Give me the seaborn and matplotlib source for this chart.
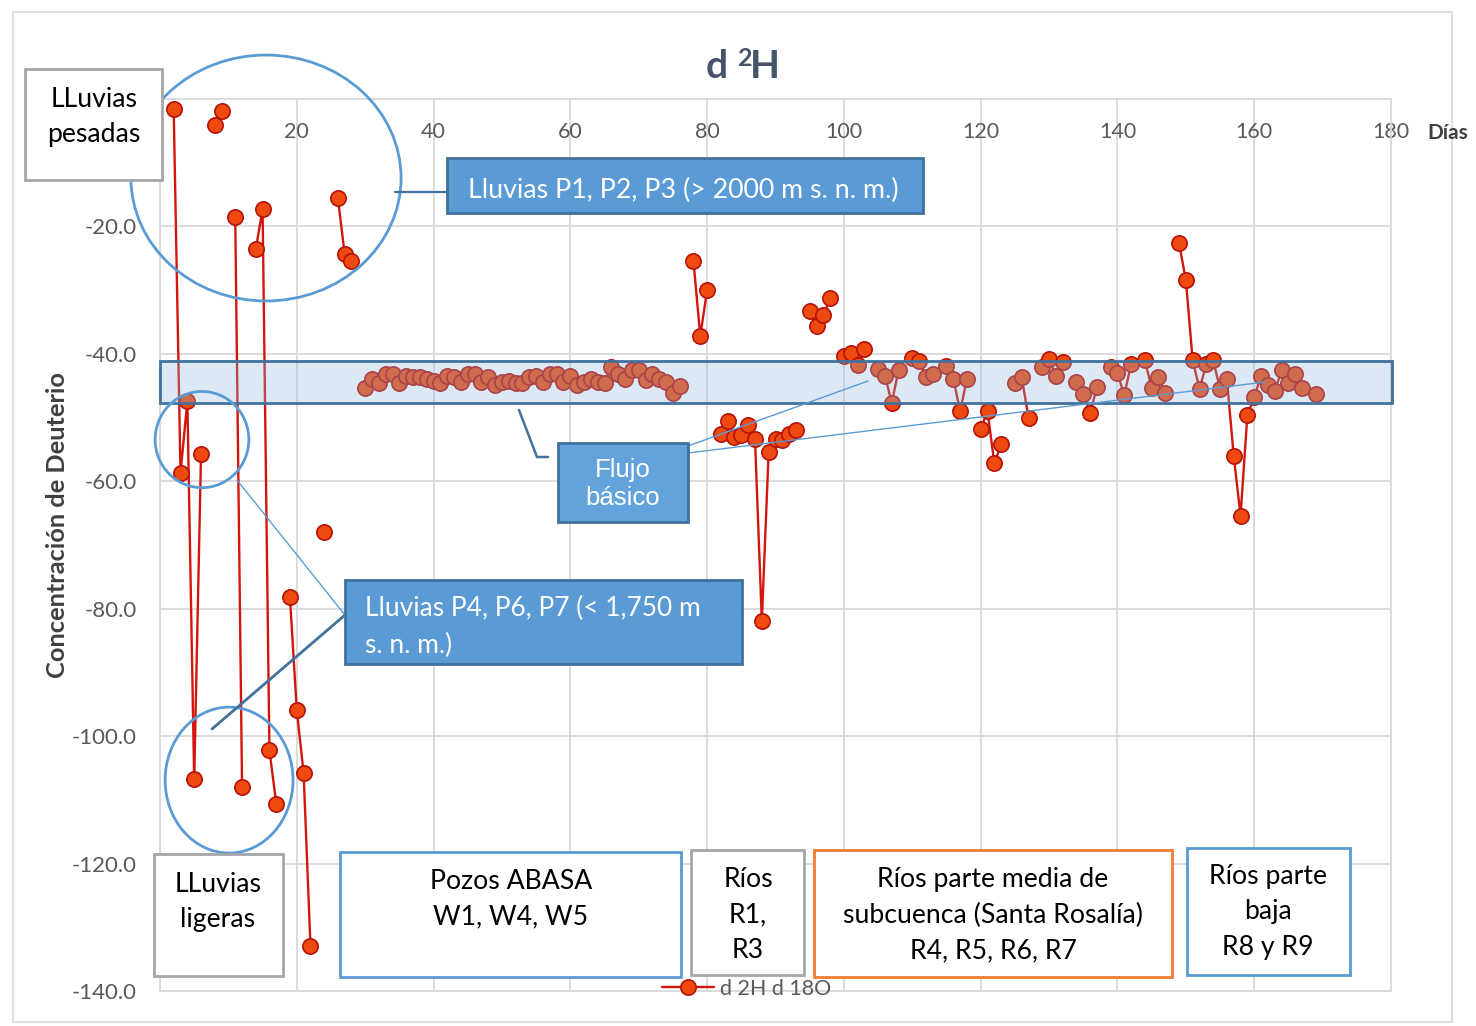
import numpy as np
import pandas as pd
import matplotlib
matplotlib.use("Agg")
import matplotlib.pyplot as plt
from matplotlib.patches import Rectangle, Ellipse
from matplotlib.lines import Line2D
import seaborn as sns

nan = np.nan

# Deuterium (d 2H) by sampling day; NaN marks days without a sample (line breaks)
lluvias_dias = list(range(2, 29))
lluvias_d2h = [-1.5, -58.7, -47.4, -106.8, -55.7, nan, -4.1, -1.9, nan, -18.5,
               -108.0, nan, -23.6, -17.3, -102.2, -110.6, nan, -78.2, -95.9,
               -105.8, -132.9, nan, -67.9, nan, -15.5, -24.3, -25.4]

pozos_dias = list(range(30, 77))
pozos_d2h = [-45.3, -44.0, -44.6, -43.2, -43.1, -44.6, -43.5, -43.6, -43.7, -43.9,
             -44.2, -44.5, -43.5, -43.6, -44.4, -43.1, -43.1, -44.4, -43.6, -44.9,
             -44.4, -44.2, -44.5, -44.6, -43.6, -43.5, -44.4, -43.1, -43.2, -44.4,
             -43.5, -44.9, -44.4, -43.9, -44.4, -44.5, -42.0, -43.2, -43.9, -42.5,
             -42.6, -44.1, -43.1, -43.9, -44.4, -46.2, -45.1]

rios_alta_dias = list(range(78, 94))
rios_alta_d2h = [-25.4, -37.2, -30.0, nan, -52.6, -50.5, -53.1, -52.7, -51.2,
                 -53.3, -81.9, -55.4, -53.3, -53.5, -52.6, -52.0]

rios_media_dias = list(range(95, 148))
rios_media_d2h = [-33.3, -35.7, -33.9, -31.3, nan, -40.4, -39.9, -41.8, -39.2, nan,
                  -42.3, -43.4, -47.7, -42.5, nan, -40.6, -41.1, -43.7, -43.2, nan,
                  -41.9, -43.9, -49.0, -43.9, nan, -51.8, -49.0, -57.2, -54.2, nan,
                  -44.5, -43.7, -50.0, nan, -42.1, -40.8, -43.5, -41.2, nan,
                  -44.4, -46.3, -49.3, -45.2, nan, -42.0, -43.0, -46.5, -41.6, nan,
                  -40.9, -45.4, -43.7, -46.2]

rios_baja_dias = list(range(149, 170))
rios_baja_d2h = [-22.6, -28.4, -41.0, -45.5, -41.6, -41.0, -45.5, -43.9, -56.0,
                 -65.4, -49.6, -46.8, -43.4, -44.9, -45.9, -42.6, -44.5, -43.2,
                 -45.3, nan, -46.3]

x_ticks = [0, 20, 40, 60, 80, 100, 120, 140, 160, 180]
x_labels = ["", "20", "40", "60", "80", "100", "120", "140", "160", "180"]
y_ticks = [-140, -120, -100, -80, -60, -40, -20]

# Band of base flow values
banda_min, banda_max = -47.7, -41.1

# ---- build the long table, one "tramo" per unbroken run of samples ----
grupos = [(lluvias_dias, lluvias_d2h), (pozos_dias, pozos_d2h),
          (rios_alta_dias, rios_alta_d2h), (rios_media_dias, rios_media_d2h),
          (rios_baja_dias, rios_baja_d2h)]
frames = []
for g, (d, v) in enumerate(grupos):
    v = np.asarray(v, dtype=float)
    tramo = g * 1000 + np.cumsum(np.isnan(v))
    frames.append(pd.DataFrame({"Día": d, "d2H": v, "tramo": tramo}))
df = pd.concat(frames).dropna().reset_index(drop=True)

# ---- figure ----
sns.set_theme(style="white")
plt.rcParams["font.family"] = ["Lato", "DejaVu Sans"]
plt.rcParams["axes.unicode_minus"] = False

W, H = 1476, 1026
fig = plt.figure(figsize=(W / 100, H / 100), dpi=100)
fig.patch.set_facecolor("white")


def fx(x):
    return x / W


def fy(y):
    return 1 - y / H


ax = fig.add_axes([fx(160), fy(991), (1391 - 160) / W, (991 - 99) / H])

LINE_RED = "#d3150c"
FACE = "#ee4a10"
EDGE = "#b5120a"

sns.lineplot(data=df, x="Día", y="d2H", units="tramo", estimator=None, sort=False,
             color=LINE_RED, linewidth=1.7, marker="o", markersize=11,
             markerfacecolor=FACE, markeredgecolor=EDGE, markeredgewidth=1.2,
             legend=False, ax=ax, zorder=3)

ax.set_xlim(0, 180)
ax.set_ylim(-140, 0)
ax.set_xlabel("")
ax.set_ylabel("")

GRID = "#d9d9d9"
ax.set_xticks(x_ticks)
ax.set_xticklabels(x_labels)
ax.set_yticks(y_ticks)
ax.set_yticklabels([f"{v:.1f}" for v in y_ticks])
ax.grid(True, color=GRID, linewidth=1.3)
ax.set_axisbelow(True)
for s in ax.spines.values():
    s.set_color(GRID)
    s.set_linewidth(1.3)
ax.tick_params(axis="x", top=True, labeltop=True, bottom=False, labelbottom=False,
               length=0, pad=-31, labelsize=15.5, labelcolor="#595959")
ax.tick_params(axis="y", length=0, pad=17, labelsize=16, labelcolor="#595959")

# base-flow band (semi transparent, above the markers)
ax.add_patch(Rectangle((0, banda_min), 180.2, banda_max - banda_min,
                       facecolor=(0.55, 0.72, 0.88, 0.30), edgecolor="#41719c",
                       linewidth=2, zorder=4, clip_on=False))

# ellipses grouping rain samples
ELL = "#5b9bd5"
for (cx, cy, w, h) in [(15.5, -12.4, 39.5, 38.6), (6.14, -53.45, 13.7, 15.1),
                       (10.1, -106.9, 18.7, 22.9)]:
    ax.add_patch(Ellipse((cx, cy), w, h, facecolor="none", edgecolor=ELL,
                         linewidth=2, zorder=5, clip_on=False))

# ---- annotations in figure pixel space ----
DARK_BLUE = "#41719c"
BOX_BLUE = "#5b9bd5"


def fline(pts, color, lw):
    xs = [fx(p[0]) for p in pts]
    ys = [fy(p[1]) for p in pts]
    fig.add_artist(Line2D(xs, ys, color=color, linewidth=lw, transform=fig.transFigure,
                          zorder=6))


def fbox(x0, y0, x1, y1, face, edge, lw=2):
    fig.add_artist(Rectangle((fx(x0), fy(y1)), (x1 - x0) / W, (y1 - y0) / H,
                             facecolor=face, edgecolor=edge, linewidth=lw,
                             transform=fig.transFigure, zorder=7))


def ftext(x, y, s, size=19.2, color="black", ha="center", family=None, ls=1.52, **kw):
    fam = family if family else ["Lato", "DejaVu Sans"]
    fig.text(fx(x), fy(y), s, ha=ha, va="center", fontsize=size, color=color,
             family=fam, zorder=8, linespacing=ls, **kw)


# outer chart frame
fig.add_artist(Rectangle((fx(13), fy(1022)), (1452 - 13) / W, (1022 - 12) / H,
                         facecolor="none", edgecolor="#dedede", linewidth=1.5,
                         transform=fig.transFigure, zorder=0))

# connectors
fline([(395, 192), (447, 192)], DARK_BLUE, 1.6)
fline([(519, 410), (537, 457), (548, 457)], DARK_BLUE, 1.8)
fline([(688, 446), (868, 381)], BOX_BLUE, 1.0)
fline([(688, 453), (1265, 382)], BOX_BLUE, 1.0)
fline([(237, 480), (345, 615)], BOX_BLUE, 1.0)
fline([(345, 615), (212, 729)], DARK_BLUE, 2.0)

# heavy rain label
fbox(25, 69, 162, 180, "white", "#a6a6a6")
ftext(94, 117, "LLuvias\npesadas")

# high altitude rain
fbox(447, 158, 923, 213, BOX_BLUE, DARK_BLUE)
ftext(683, 190, "Lluvias P1, P2, P3 (> 2000 m s. n. m.)", size=19.3, color="white")

# base flow
fbox(558, 443, 688, 522, "#62a3dc", DARK_BLUE)
ftext(623, 484, "Flujo\nbásico", size=18.5, color="white", ls=1.22,
      family=["Liberation Sans", "DejaVu Sans"])

# low altitude rain
fbox(345, 580, 742, 664, BOX_BLUE, DARK_BLUE)
ftext(365, 627, "Lluvias P4, P6, P7 (< 1,750 m\ns. n. m.)", size=19, color="white",
      ha="left", ls=1.55)

# bottom group boxes
fbox(154, 854, 283, 976, "white", "#a6a6a6")
ftext(218, 902, "LLuvias\nligeras")
fbox(340, 852, 681, 977, "white", BOX_BLUE)
ftext(511, 899, "Pozos ABASA\nW1, W4, W5")
fbox(691, 850, 804, 975, "white", "#a6a6a6")
ftext(748, 915, "Ríos\nR1,\nR3")
fbox(814, 850, 1172, 977, "white", "#ed7d31")
ftext(993, 915, "Ríos parte media de\nsubcuenca (Santa Rosalía)\nR4, R5, R6, R7")
fbox(1187, 848, 1350, 975, "white", BOX_BLUE)
ftext(1268, 912, "Ríos parte\nbaja\nR8 y R9")

# title: d with superscript 2 before H
TITLE = "#44546a"
fig.text(fx(717), fy(67), "d", ha="center", va="center", fontsize=28,
         fontweight="bold", color=TITLE)
fig.text(fx(745), fy(59), "2", ha="center", va="center", fontsize=18,
         fontweight="bold", color=TITLE)
fig.text(fx(765), fy(67), "H", ha="center", va="center", fontsize=28,
         fontweight="bold", color=TITLE)

fig.text(fx(1448), fy(133), "Días", ha="center", va="center", fontsize=15,
         fontweight="bold", color="#404040")
fig.text(fx(58), fy(525), "Concentración de Deuterio", rotation=90, ha="center",
         va="center", fontsize=18.3, fontweight="bold", color="#404040")

# legend
handle = Line2D([], [], color=LINE_RED, linewidth=1.7, marker="o", markersize=11,
                markerfacecolor=FACE, markeredgecolor=EDGE, markeredgewidth=1.2)
leg = fig.legend([handle], ["d 2H d 18O"], loc="center",
                 bbox_to_anchor=(fx(747), fy(989)), frameon=False, fontsize=15.5,
                 handlelength=2.4, handletextpad=0.3, borderpad=0)
for t in leg.get_texts():
    t.set_color("#595959")

fig.savefig("out.png", dpi=100, facecolor="white")
